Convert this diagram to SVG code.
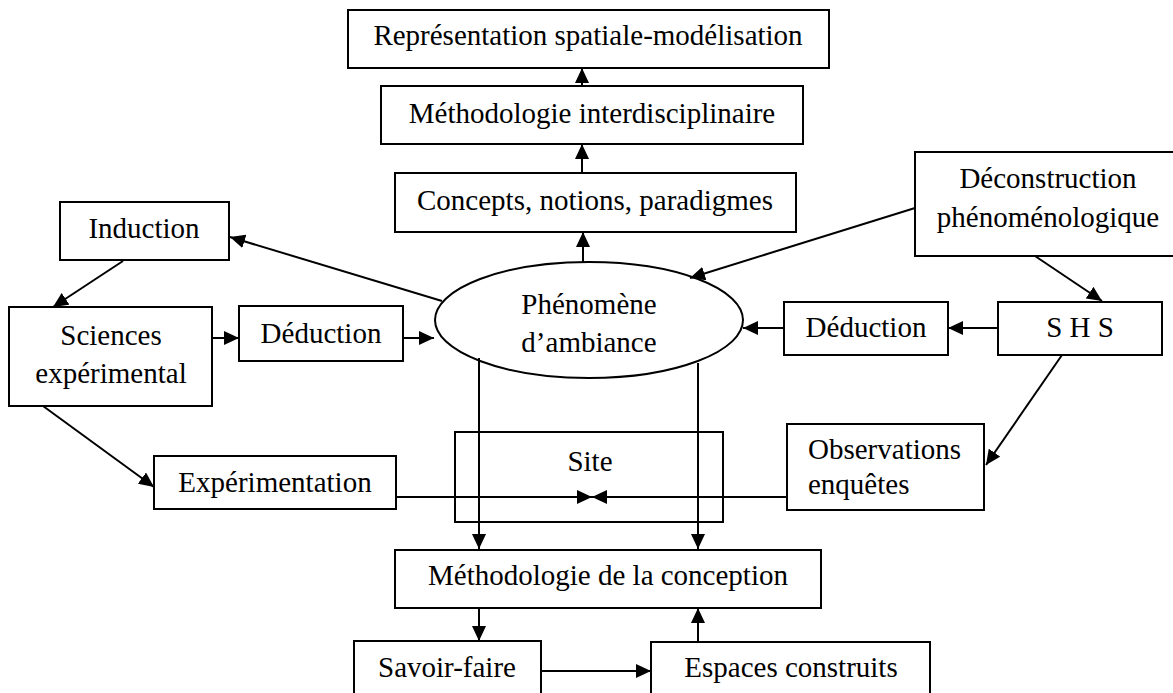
<svg xmlns="http://www.w3.org/2000/svg" width="1173" height="693" viewBox="0 0 1173 693">
<defs>
<style>
.box{fill:#fff;stroke:#000;stroke-width:2}
.t{font-family:"Liberation Serif","Times New Roman",serif;font-size:29px;fill:#000;text-anchor:middle}
.tl{text-anchor:start}
.c{stroke:#000;stroke-width:2;fill:none;marker-end:url(#ah)}
</style>
<marker id="ah" viewBox="0 0 15 14" markerWidth="15" markerHeight="14" refX="15" refY="7" orient="auto" markerUnits="userSpaceOnUse">
<path d="M0,0 L15,7 L0,14 z" fill="#000"/>
</marker>
</defs>
<rect width="1173" height="693" fill="#fff"/>
<g id="n-representation"><rect class="box" x="348" y="10" width="481" height="58"/><text class="t" x="588" y="45">Représentation spatiale-modélisation</text></g>
<g id="n-methodo-inter"><rect class="box" x="381" y="86" width="422" height="58"/><text class="t" x="592" y="123">Méthodologie interdisciplinaire</text></g>
<g id="n-concepts"><rect class="box" x="395" y="173" width="401" height="59"/><text class="t" x="595" y="210">Concepts, notions, paradigmes</text></g>
<g id="n-induction"><rect class="box" x="60" y="202" width="169" height="58"/><text class="t" x="144" y="238">Induction</text></g>
<g id="n-sciences"><rect class="box" x="9" y="307" width="203" height="99"/><text class="t" x="111" y="345">Sciences</text><text class="t" x="111" y="383">expérimental</text></g>
<g id="n-deduction-l"><rect class="box" x="239" y="306" width="164" height="55"/><text class="t" x="321" y="343">Déduction</text></g>
<g id="n-phenomene"><ellipse class="box" cx="589" cy="320" rx="154" ry="58"/><text class="t" x="589" y="314">Phénomène</text><text class="t" x="589" y="352">d’ambiance</text></g>
<g id="n-deconstruction"><rect class="box" x="915" y="152" width="270" height="104"/><text class="t" x="1048" y="188">Déconstruction</text><text class="t" x="1048" y="227">phénoménologique</text></g>
<g id="n-shs"><rect class="box" x="998" y="302" width="164" height="53"/><text class="t" x="1080" y="337">S H S</text></g>
<g id="n-deduction-r"><rect class="box" x="784" y="302" width="164" height="53"/><text class="t" x="866" y="337">Déduction</text></g>
<g id="n-observations"><rect class="box" x="787" y="424" width="197" height="86"/><text class="t tl" x="808" y="459">Observations</text><text class="t tl" x="808" y="494">enquêtes</text></g>
<g id="n-site"><rect class="box" x="455" y="432" width="268" height="90"/><text class="t" x="590" y="471">Site</text></g>
<g id="n-experimentation"><rect class="box" x="154" y="456" width="242" height="53"/><text class="t" x="275" y="492">Expérimentation</text></g>
<g id="n-methodo-conception"><rect class="box" x="395" y="550" width="426" height="58"/><text class="t" x="608" y="585">Méthodologie de la conception</text></g>
<g id="n-savoir"><rect class="box" x="354" y="641" width="187" height="62"/><text class="t" x="447" y="677">Savoir-faire</text></g>
<g id="n-espaces"><rect class="box" x="651" y="642" width="279" height="62"/><text class="t" x="791" y="677">Espaces construits</text></g>
<g id="connectors">
<line class="c" x1="582" y1="173" x2="582" y2="144"/>
<line class="c" x1="582" y1="86" x2="582" y2="68"/>
<line class="c" x1="583" y1="262" x2="583" y2="232"/>
<line class="c" x1="442" y1="301" x2="230" y2="237"/>
<line class="c" x1="123" y1="261" x2="53" y2="307"/>
<line class="c" x1="212" y1="338" x2="239" y2="338"/>
<line class="c" x1="404" y1="338" x2="434" y2="338"/>
<line class="c" x1="43" y1="406" x2="154" y2="487"/>
<line class="c" x1="915" y1="208" x2="690" y2="278"/>
<line class="c" x1="1035" y1="256" x2="1102" y2="301"/>
<line class="c" x1="998" y1="328" x2="948" y2="328"/>
<line class="c" x1="784" y1="328" x2="743" y2="328"/>
<line class="c" x1="1062" y1="355" x2="986" y2="465"/>
<line class="c" x1="396" y1="497" x2="592" y2="497"/>
<line class="c" x1="787" y1="497" x2="592" y2="497"/>
<line class="c" x1="479" y1="358" x2="479" y2="549"/>
<line class="c" x1="698" y1="363" x2="698" y2="549"/>
<line class="c" x1="479" y1="608" x2="479" y2="641"/>
<line class="c" x1="541" y1="671" x2="651" y2="671"/>
<line class="c" x1="698" y1="642" x2="698" y2="608"/>
</g>
</svg>
